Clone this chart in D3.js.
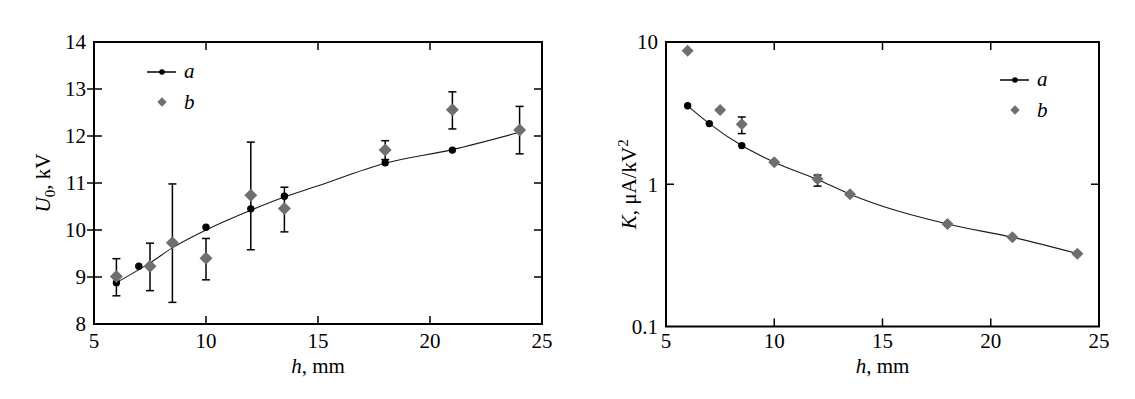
<!DOCTYPE html>
<html><head><meta charset="utf-8">
<script src="https://cdn.jsdelivr.net/npm/d3@7"></script>
<style>
html,body{margin:0;padding:0;background:#fff;}
</style></head>
<body>
<svg id="c" width="1135" height="399" font-family="'Liberation Serif', 'Times New Roman', 'DejaVu Serif', serif"></svg>
<script>
// ---------- Data: left panel (U0 vs h) ----------
const leftA_h = [6, 7, 10, 12, 13.5, 18, 21];
const leftA_U = [8.88, 9.23, 10.06, 10.45, 10.72, 11.43, 11.70];
const leftFit_h = [6, 7.5, 8.5, 10, 12, 13.5, 15, 18, 21, 24];
const leftFit_U = [8.88, 9.30, 9.62, 10.0, 10.42, 10.70, 10.94, 11.42, 11.71, 12.08];
const leftB_h = [6, 7.5, 8.5, 10, 12, 13.5, 18, 21, 24];
const leftB_U = [9.01, 9.23, 9.73, 9.40, 10.74, 10.46, 11.70, 12.56, 12.13];
const leftB_lo = [8.60, 8.71, 8.46, 8.94, 9.58, 9.96, 11.50, 12.15, 11.62];
const leftB_hi = [9.39, 9.72, 10.98, 9.82, 11.87, 10.91, 11.90, 12.94, 12.63];
const leftXTicks = [5, 10, 15, 20, 25];
const leftYTicks = [8, 9, 10, 11, 12, 13, 14];

// ---------- Data: right panel (K vs h, log) ----------
const rightA_h = [6, 7, 8.5, 10, 12, 13.5, 18, 21, 24];
const rightA_K = [3.56, 2.67, 1.87, 1.43, 1.08, 0.85, 0.525, 0.424, 0.326];
const rightB_h = [6, 7.5, 8.5, 10, 12, 13.5, 18, 21, 24];
const rightB_K = [8.69, 3.33, 2.64, 1.43, 1.09, 0.85, 0.525, 0.424, 0.324];
const rightB_lo = [null, null, 2.27, null, 0.97, null, null, null, null];
const rightB_hi = [null, null, 2.97, null, 1.16, null, null, null, null];
const rightXTicks = [5, 10, 15, 20, 25];
const rightYTicks = [0.1, 1, 10];
const rightYTickLabels = ["0.1", "1", "10"];

const svg = d3.select("#c");
const FS = 21;
const diamondColor = "#6f6f6f";

function panel(cfg) {
  const g = svg.append("g");
  const x = cfg.x, y = cfg.y;
  const [x0, x1] = x.range();
  const [y0, y1] = y.range(); // y0 bottom, y1 top

  // fit line
  const line = d3.line().x(d => x(d[0])).y(d => y(d[1])).curve(d3.curveMonotoneX);
  g.append("path").datum(cfg.fit).attr("d", line)
    .attr("fill", "none").attr("stroke", "#1a1a1a").attr("stroke-width", 1.1);

  // series a dots
  g.selectAll(".dotA").data(cfg.dots).enter().append("circle")
    .attr("cx", d => x(d[0])).attr("cy", d => y(d[1])).attr("r", 3.7).attr("fill", "#000");

  // error bars
  const eb = cfg.diamonds.filter(d => d[2] != null);
  eb.forEach(d => {
    const cx = x(d[0]);
    g.append("line").attr("x1", cx).attr("x2", cx).attr("y1", y(d[2])).attr("y2", y(d[3]))
      .attr("stroke", "#000").attr("stroke-width", 1.5);
    [d[2], d[3]].forEach(v => {
      g.append("line").attr("x1", cx - 4).attr("x2", cx + 4).attr("y1", y(v)).attr("y2", y(v))
        .attr("stroke", "#000").attr("stroke-width", 1.5);
    });
  });

  // diamonds
  const ds = cfg.dsize;
  g.selectAll(".dia").data(cfg.diamonds).enter().append("path")
    .attr("d", d => {
      const cx = x(d[0]), cy = y(d[1]);
      return `M${cx},${cy - ds}L${cx + ds},${cy}L${cx},${cy + ds}L${cx - ds},${cy}Z`;
    })
    .attr("fill", diamondColor);

  // frame
  g.append("rect").attr("x", x0).attr("y", y1).attr("width", x1 - x0).attr("height", y0 - y1)
    .attr("fill", "none").attr("stroke", "#000").attr("stroke-width", 2);

  // ticks (inner), bottom & top
  const tl = 8;
  cfg.xTicks.forEach(t => {
    if (t === cfg.x.domain()[0] || t === cfg.x.domain()[1]) return;
    const px = x(t);
    g.append("line").attr("x1", px).attr("x2", px).attr("y1", y0).attr("y2", y0 - tl).attr("stroke", "#000").attr("stroke-width", 1.5);
    g.append("line").attr("x1", px).attr("x2", px).attr("y1", y1).attr("y2", y1 + tl).attr("stroke", "#000").attr("stroke-width", 1.5);
  });
  cfg.yTicks.forEach(t => {
    const dom = cfg.y.domain();
    if (t === dom[0] || t === dom[1]) return;
    const py = y(t);
    g.append("line").attr("x1", x0 - cfg.outTick).attr("x2", x0 + tl).attr("y1", py).attr("y2", py).attr("stroke", "#000").attr("stroke-width", 1.5);
    g.append("line").attr("x1", x1).attr("x2", x1 - tl).attr("y1", py).attr("y2", py).attr("stroke", "#000").attr("stroke-width", 1.5);
  });

  // tick labels
  cfg.xTicks.forEach(t => {
    g.append("text").attr("x", x(t)).attr("y", 348).attr("text-anchor", "middle")
      .attr("font-size", FS).text(t);
  });
  cfg.yTicks.forEach((t, i) => {
    g.append("text").attr("x", x0 - 8).attr("y", y(t)).attr("dy", "0.35em").attr("text-anchor", "end")
      .attr("font-size", FS).text(cfg.yLabels ? cfg.yLabels[i] : t);
  });

  // x title
  const xt = g.append("text").attr("x", (x0 + x1) / 2).attr("y", 373).attr("text-anchor", "middle").attr("font-size", FS);
  xt.append("tspan").attr("font-style", "italic").text("h");
  xt.append("tspan").text(", mm");

  // y title
  const yt = g.append("text").attr("transform", `translate(${cfg.ytx},${(y0 + y1) / 2}) rotate(-90)`)
    .attr("text-anchor", "middle").attr("font-size", FS);
  cfg.ytitle(yt);

  // legend
  const L = cfg.legend;
  g.append("line").attr("x1", L.x - 15).attr("x2", L.x + 14).attr("y1", L.y).attr("y2", L.y).attr("stroke", "#000").attr("stroke-width", 1.5);
  g.append("circle").attr("cx", L.x).attr("cy", L.y).attr("r", 2.8).attr("fill", "#000");
  g.append("text").attr("x", L.tx).attr("y", L.y + 6).attr("font-size", FS).attr("font-style", "italic").text("a");
  const by = L.y + 30, s = 4.7;
  g.append("path").attr("d", `M${L.x},${by - s}L${L.x + s},${by}L${L.x},${by + s}L${L.x - s},${by}Z`).attr("fill", diamondColor);
  g.append("text").attr("x", L.tx).attr("y", by + 7).attr("font-size", FS).attr("font-style", "italic").text("b");
}

// left panel
const xL = d3.scaleLinear().domain([5, 25]).range([94, 542]);
const yL = d3.scaleLinear().domain([8, 14]).range([324, 42]);
panel({
  x: xL, y: yL,
  fit: leftFit_h.map((h, i) => [h, leftFit_U[i]]),
  dots: leftA_h.map((h, i) => [h, leftA_U[i]]),
  diamonds: leftB_h.map((h, i) => [h, leftB_U[i], leftB_lo[i], leftB_hi[i]]),
  dsize: 6.5, xTicks: leftXTicks, yTicks: leftYTicks, outTick: 7,
  ytx: 50,
  ytitle: t => {
    t.append("tspan").attr("font-style", "italic").text("U");
    t.append("tspan").attr("font-size", 15).attr("dy", 5).text("0");
    t.append("tspan").attr("dy", -5).text(", kV");
  },
  legend: { x: 162, y: 72, tx: 184 }
});

// right panel
const xR = d3.scaleLinear().domain([5, 25]).range([666, 1099]);
const yR = d3.scaleLog().domain([0.1, 10]).range([326.5, 42]);
panel({
  x: xR, y: yR,
  fit: rightA_h.map((h, i) => [h, rightA_K[i]]),
  dots: rightA_h.map((h, i) => [h, rightA_K[i]]),
  diamonds: rightB_h.map((h, i) => [h, rightB_K[i], rightB_lo[i], rightB_hi[i]]),
  dsize: 6, xTicks: rightXTicks, yTicks: rightYTicks, yLabels: rightYTickLabels, outTick: 0,
  ytx: 636,
  ytitle: t => {
    t.append("tspan").attr("font-style", "italic").text("K");
    t.append("tspan").text(", μA/kV");
    t.append("tspan").attr("font-size", 15).attr("dy", -8).text("2");
  },
  legend: { x: 1015, y: 80, tx: 1037 }
});
</script>
</body></html>
